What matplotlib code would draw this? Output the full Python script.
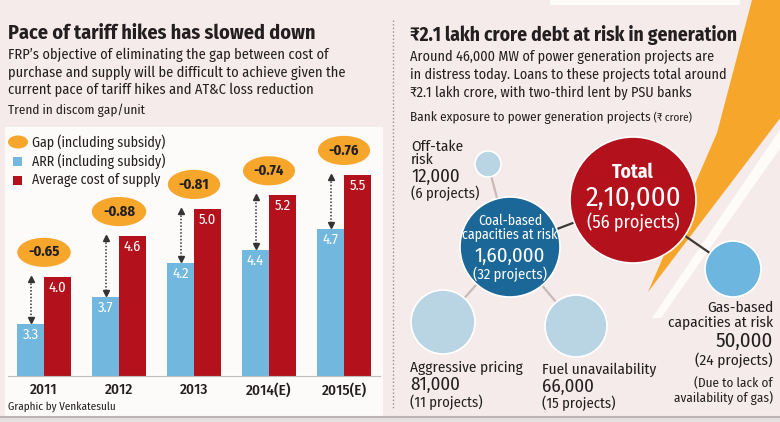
import matplotlib
matplotlib.use("Agg")
import matplotlib.pyplot as plt
from matplotlib import font_manager
from matplotlib.patches import Circle, Ellipse, Rectangle, Polygon

# fonts: a condensed face looks closest to the newspaper type
names = {f.name for f in font_manager.fontManager.ttflist}
NARROW = "Liberation Sans"
for cand in ["Fira Sans Condensed", "Roboto Condensed", "PT Sans Narrow", "Liberation Sans Narrow"]:
    if cand in names:
        NARROW = cand
        break
plt.rcParams["font.family"] = [NARROW, "DejaVu Sans"]

# ---- data: discom gap per unit ----
years = ["2011", "2012", "2013", "2014(E)", "2015(E)"]
arr = [3.3, 3.7, 4.2, 4.4, 4.7]          # ARR (including subsidy)
acs = [4.0, 4.6, 5.0, 5.2, 5.5]          # average cost of supply
gap = [-0.65, -0.88, -0.81, -0.74, -0.76]

# ---- data: bank exposure to power generation projects (Rs crore) ----
exp_values = [210000, 160000, 12000, 81000, 66000, 50000]
exp_projects = [56, 32, 6, 11, 15, 24]

BG = "#f6ebeb"
DARK = "#231f20"
BLUE = "#72b7de"
RED = "#b3121c"
ORANGE = "#f5a62b"


def indian(n):
    s = str(n)
    if len(s) <= 3:
        return s
    head, tail = s[:-3], s[-3:]
    parts = []
    while len(head) > 2:
        parts.insert(0, head[-2:])
        head = head[:-2]
    if head:
        parts.insert(0, head)
    return ",".join(parts) + "," + tail


fig = plt.figure(figsize=(7.8, 4.22), dpi=100)
fig.patch.set_facecolor(BG)

# full-figure axes in pixel units for the layout
bg = fig.add_axes([0, 0, 1, 1])
bg.set_xlim(0, 780)
bg.set_ylim(422, 0)
bg.axis("off")

# white panel behind the bar chart, bottom strip, separator
bg.add_patch(Rectangle((5, 127), 378, 290, fc="#fdfafa", ec="none"))
bg.add_patch(Rectangle((0, 417), 780, 5, fc="#e4e0e0", ec="none"))
bg.plot([0, 780], [417, 417], color="#bdb5b5", lw=1.5)
bg.plot([393, 393], [20, 410], color="#9a9090", lw=1, ls=(0, (1, 1.6)))
bg.add_patch(Rectangle((550, 0), 190, 5, fc="#fdfafa", ec="none"))

# orange streak and light stripe on the right
bg.add_patch(Polygon([(652, 318), (661, 318), (800, 120), (800, 100)],
                     fc="#fefbf8", ec="none"))
bg.add_patch(Polygon([(752, 0), (870, 0), (648, 292), (717, 133)],
                     fc=ORANGE, ec="none"))

# ---- left titles ----
bg.text(8, 33, "Pace of tariff hikes has slowed down", fontsize=14.5,
        fontweight="bold", color=DARK, va="center")
left_sub = ["FRP\u2019s objective of eliminating the gap between cost of",
            "purchase and supply will be difficult to achieve given the",
            "current pace of tariff hikes and AT&C loss reduction"]
for k, line in enumerate(left_sub):
    bg.text(8, 55 + 17.5 * k, line, fontsize=10.4, color=DARK, va="center")
bg.text(8, 110, "Trend in discom gap/unit", fontsize=9.5, color=DARK, va="center")

# legend
bg.add_patch(Ellipse((18, 142), 20, 13, fc=ORANGE, ec="none"))
bg.add_patch(Rectangle((13, 157), 9, 9, fc=BLUE, ec="none"))
bg.add_patch(Rectangle((13, 176), 9, 9, fc=RED, ec="none"))
for y, lab in zip([142, 161, 180], ["Gap (including subsidy)", "ARR (including subsidy)",
                                   "Average cost of supply"]):
    bg.text(32, y, lab, fontsize=10, color=DARK, va="center")

bg.text(8, 407, "Graphic by Venkatesulu", fontsize=8, color=DARK, va="center")

# ---- bar chart ----
ax = fig.add_axes([8 / 780, (422 - 376) / 422, 372 / 780, (376 - 128) / 422])
ax.patch.set_alpha(0)
ax.set_xlim(-0.48, 4.48)
ax.set_ylim(2.54, 6.19)
w = 0.36
xs = list(range(len(years)))
ax.bar([x - w / 2 for x in xs], arr, width=w, color=BLUE)
ax.bar([x + w / 2 for x in xs], acs, width=w, color=RED)
for x, a, c, g in zip(xs, arr, acs, gap):
    ax.text(x - w / 2, a - 0.16, f"{a:.1f}", ha="center", va="center",
            color="white", fontsize=10.5)
    ax.text(x + w / 2, c - 0.16, f"{c:.1f}", ha="center", va="center",
            color="white", fontsize=10.5)
    # dotted double arrow from cost down to revenue
    ax.plot([x - w / 2, x - w / 2], [c - 0.05, a + 0.08], color="#333333",
            lw=1.1, ls=(0, (1, 1.2)))
    ax.plot(x - w / 2, c - 0.03, marker="^", color="#333333", ms=5)
    ax.plot(x - w / 2, a + 0.06, marker="v", color="#333333", ms=5)
    ax.text(x, c + 0.36, f"{g:.2f}", ha="center", va="center", fontsize=10.5,
            fontweight="bold", color=DARK,
            bbox=dict(boxstyle="ellipse,pad=0.22", fc=ORANGE, ec="none"))
ax.set_xticks(xs)
ax.set_xticklabels(years, fontsize=11, color=DARK, fontweight="medium")
ax.tick_params(axis="x", length=0, pad=5)
ax.set_yticks([])
for s in ["left", "right", "top"]:
    ax.spines[s].set_visible(False)
ax.spines["bottom"].set_color("#bdbdbd")

# ---- right titles ----
bg.text(410, 35, "\u20b92.1 lakh crore debt at risk in generation", fontsize=14,
        fontweight="bold", color=DARK, va="center")
right_sub = ["Around 46,000 MW of power generation projects are",
             "in distress today. Loans to these projects total around",
             "\u20b92.1 lakh crore, with two-third lent by PSU banks"]
for k, line in enumerate(right_sub):
    bg.text(410, 57 + 18 * k, line, fontsize=10.2, color=DARK, va="center")
t = bg.text(410, 118, "Bank exposure to power generation projects", fontsize=9.5,
            color=DARK, va="center")
bg.annotate(" (\u20b9 crore)", xy=(1, 0.5), xycoords=t, va="center", fontsize=8,
            color=DARK)

# ---- bubbles ----
total_c, coal_c, off_c = (633, 200), (510, 247), (488, 164)
aggr_c, fuel_c, gas_c = (443, 322), (576, 326), (733, 269)
light = "#c9b9b9"
for p, q, col in [(coal_c, off_c, light), (coal_c, aggr_c, light), (coal_c, fuel_c, light),
                  (total_c, coal_c, "#3a3a3a"), (total_c, gas_c, "#3a3a3a")]:
    bg.plot([p[0], q[0]], [p[1], q[1]], color=col, lw=1.6, zorder=2)

for c, r, col in [(total_c, 63, RED), (coal_c, 50, "#1b6797"), (off_c, 13, "#b9d5e4"),
                  (aggr_c, 32, "#b9d5e4"), (fuel_c, 31, "#b9d5e4"), (gas_c, 28, "#6db6df")]:
    bg.add_patch(Circle(c, r, fc=col, ec="white", lw=1.2, zorder=3))

v = exp_values
pr = exp_projects
kw = dict(ha="center", va="center", color="white", zorder=4)
bg.text(633, 172, "Total", fontsize=14, fontweight="bold", **kw)
bg.text(633, 198, indian(v[0]), fontsize=20.5, **kw)
bg.text(633, 222, f"({pr[0]} projects)", fontsize=13, **kw)

bg.text(510, 221, "Coal-based", fontsize=10, **kw)
bg.text(510, 235, "capacities at risk", fontsize=10, **kw)
bg.text(510, 256, indian(v[1]), fontsize=15, **kw)
bg.text(510, 274, f"({pr[1]} projects)", fontsize=10.5, **kw)

kl = dict(ha="left", va="center", color=DARK)
bg.text(411, 147, "Off-take", fontsize=11, **kl)
bg.text(411, 160, "risk", fontsize=11, **kl)
bg.text(411, 177, indian(v[2]), fontsize=13.5, **kl)
bg.text(411, 193, f"({pr[2]} projects)", fontsize=10.5, **kl)

bg.text(410, 368, "Aggressive pricing", fontsize=11, **kl)
bg.text(410, 385, indian(v[3]), fontsize=13.5, **kl)
bg.text(410, 402, f"({pr[3]} projects)", fontsize=10.5, **kl)

bg.text(542, 370, "Fuel unavailability", fontsize=11, **kl)
bg.text(542, 387, indian(v[4]), fontsize=13.5, **kl)
bg.text(542, 403, f"({pr[4]} projects)", fontsize=10.5, **kl)

kr = dict(ha="right", va="center", color=DARK)
bg.text(773, 308, "Gas-based", fontsize=11, **kr)
bg.text(773, 323, "capacities at risk", fontsize=11, **kr)
bg.text(773, 341, indian(v[5]), fontsize=15, **kr)
bg.text(773, 360, f"({pr[5]} projects)", fontsize=11, **kr)
bg.text(773, 383, "(Due to lack of", fontsize=9.5, **kr)
bg.text(773, 398, "availability of gas)", fontsize=9.5, **kr)

fig.savefig("out.png", dpi=100, facecolor=fig.get_facecolor())
